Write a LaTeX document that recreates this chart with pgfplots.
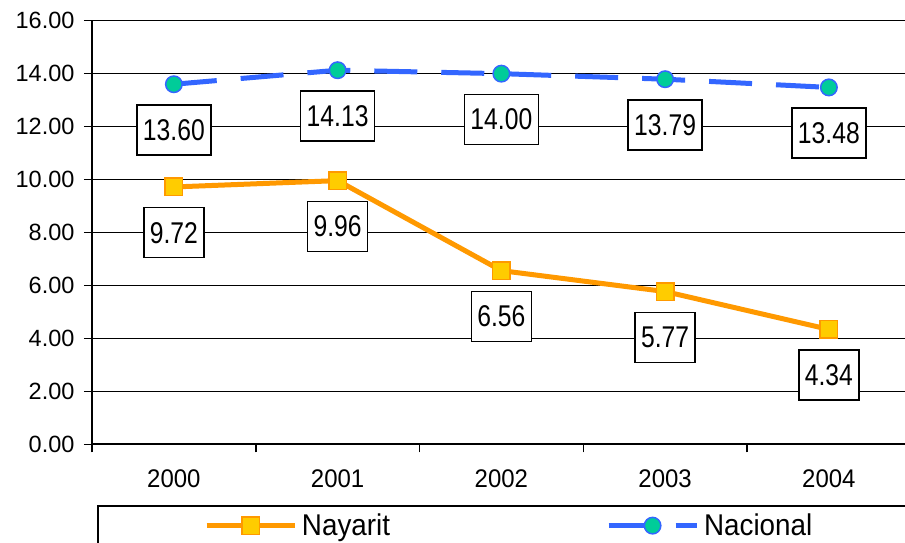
\documentclass[border=0pt]{standalone}
\usepackage{pgfplots}
\pgfplotsset{compat=1.18}
\usepackage{fontspec}
\setmainfont{Liberation Sans}
\newfontfamily\labelfont{Liberation Sans}[FakeStretch=0.823]
\newfontfamily\legfont{Liberation Sans}[FakeStretch=0.927]
\newfontfamily\xfont{Liberation Sans}[FakeStretch=0.94]
\definecolor{nay}{HTML}{FF9900}
\definecolor{nayfill}{HTML}{FFCC00}
\definecolor{nac}{HTML}{3366FF}
\definecolor{nacfill}{HTML}{00CC99}
\begin{document}
\begin{tikzpicture}
\useasboundingbox (-92pt,-97.7pt) rectangle (813pt,444.3pt);
\clip (-92pt,-97.7pt) rectangle (813pt,444.3pt);
\begin{axis}[
  at={(0pt,0pt)}, anchor=south west,
  scale only axis, width=818.75pt, height=423.6pt,
  xmin=-0.5, xmax=4.5, ymin=0, ymax=16,
  axis x line*=bottom, axis y line*=left,
  axis line style={-, line width=2pt, black},
  xtick={-0.5,0.5,1.5,2.5,3.5,4.5},
  x tick label as interval,
  xticklabels={2000,2001,2002,2003,2004},
  ytick={0,2,4,6,8,10,12,14,16},
  yticklabels={0.00,2.00,4.00,6.00,8.00,10.00,12.00,14.00,16.00},
  ymajorgrids, grid style={black, line width=1.5pt},
  tick align=outside, major tick length=8pt,
  tick style={black, line width=1.5pt},
  yticklabel style={font=\fontsize{23.5}{28}\selectfont, xshift=-6pt},
  xticklabel style={font=\xfont\fontsize{25.5}{30}\selectfont, yshift=-14pt},
  point meta=explicit symbolic,
  nodes near coords,
  every node near coord/.style={anchor=north, yshift=-20pt, draw=black, fill=white,
     line width=1.5pt, text=black, minimum height=50pt, inner xsep=6pt,
     font=\labelfont\fontsize{30}{36}\selectfont},
  legend columns=2,
  legend style={at={(0,0)}, anchor=north west, xshift=5pt, yshift=-60.7pt,
     draw=black, line width=2pt, fill=white, inner xsep=106pt, inner ysep=6pt,
     font=\legfont\fontsize{30}{36}\selectfont,
     /tikz/every even column/.append style={column sep=214pt}},
  legend image code/.code={\draw[mark repeat=2,mark phase=2,#1] plot coordinates {(0pt,0pt) (44pt,0pt) (88pt,0pt)};\path (91pt,0pt);},
]
\addplot[nay, line width=5pt, mark=square*, mark size=8.75pt,
  mark options={solid, fill=nayfill, draw=nay, line width=1.5pt}]
  coordinates {(0,9.72) [9.72] (1,9.96) [9.96] (2,6.56) [6.56] (3,5.77) [5.77] (4,4.34) [4.34]};
\addlegendentry{Nayarit}
\addplot[nac, line width=5pt, dash pattern=on 43pt off 24pt, mark=*, mark size=8.25pt,
  mark options={solid, fill=nacfill, draw=nac, line width=1.5pt}]
  coordinates {(0,13.60) [13.60] (1,14.13) [14.13] (2,14.00) [14.00] (3,13.79) [13.79] (4,13.48) [13.48]};
\addlegendentry{Nacional}
\end{axis}
\end{tikzpicture}
\end{document}
